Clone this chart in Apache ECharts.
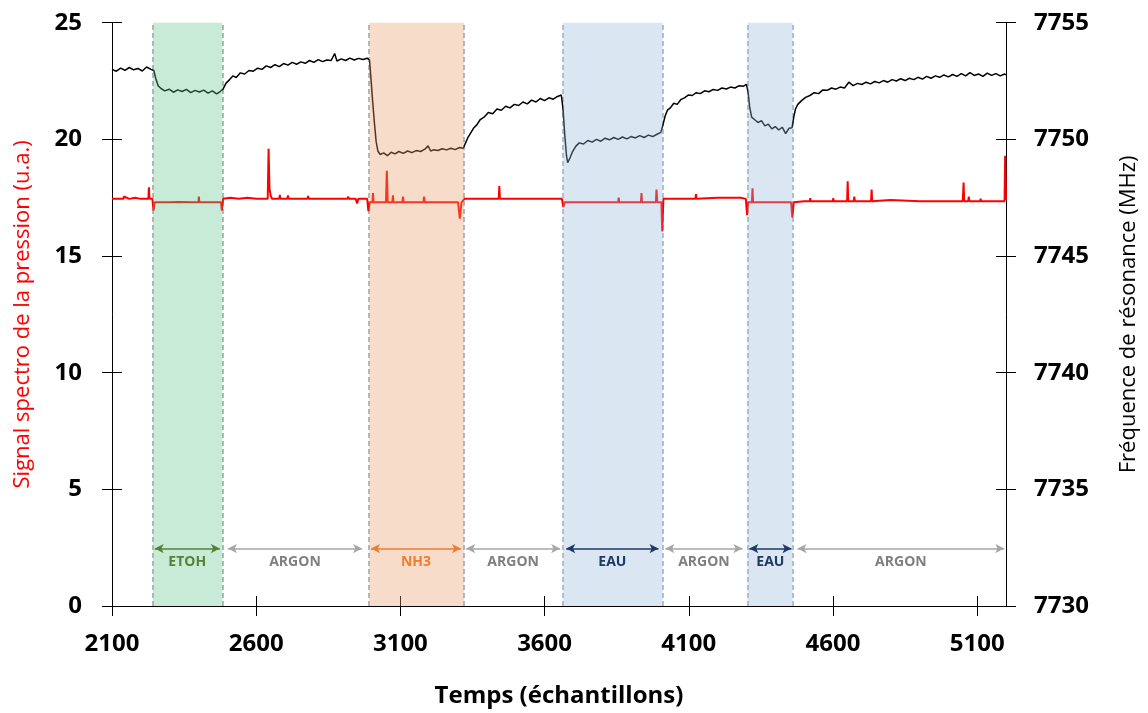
<!DOCTYPE html>
<html><head><meta charset="utf-8">
<script src="https://cdn.jsdelivr.net/npm/echarts@6/dist/echarts.min.js"></script>
<style>html,body{margin:0;padding:0;background:#fff}#c{width:1148px;height:713px}</style>
</head><body><div id="c"></div>
<script>
// ---- DATA ----
const freqT = [2100,2115,2130,2145,2160,2175,2190,2205,2220,2235,2245,2252,2260,2270,2283,2298,2313,2328,2343,2358,2373,2388,2403,2418,2433,2448,2463,2475,2485,2495,2507,2519,2531,2545,2560,2575,2590,2605,2620,2635,2650,2665,2680,2695,2710,2725,2740,2755,2770,2785,2800,2815,2830,2845,2860,2872,2880,2895,2910,2925,2940,2955,2970,2985,2993,2998,3004,3010,3016,3022,3030,3042,3055,3068,3081,3095,3110,3125,3140,3155,3170,3185,3196,3205,3215,3230,3245,3260,3275,3290,3305,3318,3326,3335,3345,3355,3365,3377,3390,3405,3420,3435,3450,3465,3480,3495,3510,3525,3540,3555,3570,3585,3600,3615,3630,3645,3658,3664,3670,3676,3680,3688,3696,3708,3720,3735,3750,3765,3780,3795,3810,3825,3840,3855,3870,3885,3900,3915,3930,3945,3960,3975,3990,4003,4010,4018,4026,4036,4048,4060,4072,4085,4098,4112,4126,4140,4155,4170,4185,4200,4215,4230,4245,4260,4275,4290,4300,4306,4311,4318,4328,4340,4352,4364,4376,4388,4400,4412,4424,4436,4448,4458,4464,4470,4478,4490,4505,4520,4535,4550,4565,4580,4595,4610,4625,4640,4655,4670,4685,4700,4715,4730,4745,4760,4775,4790,4805,4820,4835,4850,4865,4880,4895,4910,4925,4940,4955,4970,4985,5000,5015,5030,5045,5060,5075,5090,5105,5120,5135,5150,5165,5180,5195,5200];
const freqV = [7753.00,7752.92,7753.05,7752.96,7753.08,7752.98,7753.04,7752.93,7753.10,7753.00,7752.95,7752.60,7752.30,7752.18,7752.08,7752.15,7752.02,7752.12,7752.05,7752.14,7752.00,7752.10,7752.03,7752.11,7751.98,7752.08,7751.95,7752.05,7752.15,7752.40,7752.55,7752.72,7752.65,7752.85,7752.80,7752.95,7752.92,7753.05,7753.00,7753.15,7753.08,7753.20,7753.12,7753.25,7753.18,7753.30,7753.22,7753.32,7753.26,7753.38,7753.30,7753.42,7753.33,7753.40,7753.38,7753.68,7753.36,7753.45,7753.38,7753.48,7753.40,7753.47,7753.42,7753.48,7753.40,7752.60,7751.60,7750.70,7749.90,7749.50,7749.35,7749.42,7749.30,7749.45,7749.38,7749.48,7749.40,7749.50,7749.43,7749.52,7749.48,7749.58,7749.72,7749.50,7749.55,7749.52,7749.60,7749.55,7749.62,7749.56,7749.65,7749.62,7749.85,7750.10,7750.30,7750.50,7750.62,7750.85,7750.95,7751.15,7751.10,7751.30,7751.25,7751.42,7751.35,7751.50,7751.45,7751.60,7751.52,7751.68,7751.60,7751.75,7751.66,7751.78,7751.72,7751.84,7751.90,7751.30,7750.20,7749.30,7749.00,7749.20,7749.45,7749.70,7749.85,7749.80,7749.95,7749.88,7750.00,7749.92,7750.05,7749.98,7750.08,7750.00,7750.10,7750.02,7750.12,7750.06,7750.16,7750.08,7750.18,7750.12,7750.22,7750.30,7750.60,7751.00,7751.25,7751.35,7751.55,7751.50,7751.70,7751.78,7751.90,7751.88,7752.00,7751.96,7752.08,7752.04,7752.14,7752.10,7752.20,7752.16,7752.24,7752.20,7752.30,7752.28,7752.36,7752.00,7751.40,7750.95,7750.85,7750.72,7750.80,7750.58,7750.65,7750.45,7750.55,7750.40,7750.52,7750.25,7750.48,7750.50,7750.95,7751.30,7751.50,7751.65,7751.80,7751.88,7752.00,7751.96,7752.12,7752.10,7752.20,7752.15,7752.24,7752.20,7752.45,7752.30,7752.40,7752.35,7752.45,7752.38,7752.48,7752.42,7752.52,7752.45,7752.56,7752.50,7752.60,7752.52,7752.62,7752.56,7752.66,7752.58,7752.70,7752.62,7752.72,7752.66,7752.76,7752.68,7752.78,7752.70,7752.82,7752.72,7752.86,7752.74,7752.80,7752.70,7752.84,7752.74,7752.82,7752.72,7752.80,7752.76];
const presT = [2100,2140,2141,2160,2180,2181,2200,2226,2228,2230,2240,2244,2248,2300,2330,2380,2400,2401,2403,2440,2478,2481,2485,2510,2540,2570,2600,2640,2643,2646,2650,2655,2680,2682,2684,2708,2710,2712,2778,2780,2782,2850,2917,2919,2921,2945,2950,2954,2985,2989,2994,3003,3005,3007,3050,3053,3056,3072,3074,3076,3107,3109,3111,3180,3182,3184,3230,3300,3306,3312,3322,3400,3441,3443,3445,3550,3600,3660,3665,3670,3760,3855,3857,3859,3934,3936,3938,3986,3988,3991,4005,4008,4012,4100,4123,4125,4127,4200,4280,4298,4302,4306,4319,4321,4323,4400,4455,4459,4464,4500,4520,4521,4523,4560,4600,4601,4603,4649,4651,4653,4672,4674,4676,4732,4734,4736,4800,4900,5050,5053,5055,5069,5071,5073,5110,5112,5114,5195,5197,5200];
const presV = [17.45,17.45,17.55,17.45,17.50,17.45,17.45,17.45,17.95,17.45,17.45,16.95,17.30,17.30,17.32,17.30,17.30,17.55,17.30,17.30,17.30,16.95,17.45,17.50,17.45,17.50,17.45,17.45,19.60,17.90,17.60,17.45,17.45,17.62,17.45,17.45,17.60,17.45,17.45,17.58,17.45,17.45,17.45,17.55,17.45,17.45,17.25,17.45,17.45,16.92,17.30,17.30,17.70,17.30,17.30,18.65,17.30,17.30,17.60,17.30,17.30,17.55,17.30,17.30,17.55,17.30,17.30,17.30,16.60,17.30,17.45,17.45,17.45,18.00,17.45,17.45,17.45,17.45,17.10,17.30,17.30,17.30,17.50,17.30,17.30,17.70,17.30,17.30,17.85,17.30,17.30,16.05,17.45,17.45,17.45,17.65,17.45,17.50,17.50,17.45,16.75,17.30,17.30,17.90,17.30,17.30,17.30,16.65,17.30,17.35,17.35,17.48,17.35,17.35,17.35,17.48,17.35,17.35,18.20,17.35,17.35,17.55,17.35,17.35,17.85,17.35,17.40,17.35,17.35,18.15,17.35,17.35,17.55,17.35,17.35,17.45,17.35,17.35,19.30,17.40];
const regionNames = ['ETOH','NH3','EAU','EAU'];
const regionStart = [2242,2992,3664,4304];
const regionEnd = [2483,3321,4009,4460];
const arrowLabels = ['ETOH','ARGON','NH3','ARGON','EAU','ARGON','EAU','ARGON'];
const arrowStart = [2248,2502,2998,3328,3675,4019,4310,4477];
const arrowEnd = [2474,2967,3310,3654,3995,4286,4456,5194];

// ---- STYLE ----
const FONT = "'Open Sans', 'Liberation Sans', sans-serif";
const areaColor = {ETOH:'rgba(95,198,138,0.35)', NH3:'rgba(235,155,104,0.35)', EAU:'rgba(149,184,218,0.35)'};
const dashColor = {ETOH:'#a6a6a6', NH3:'#a6a6a6', EAU:'#9fb2c6'};
const arrowColor = {ETOH:'#548235', ARGON:'#a6a6a6', NH3:'#ed7d31', EAU:'#1f3864'};
const labelColor = {ETOH:'#548235', ARGON:'#7f7f7f', NH3:'#ed7d31', EAU:'#1f3864'};
const ARROW_Y = 2.46;

const plain = v => String(v);
const tickLabel = {fontSize:24, fontWeight:'bold', color:'#000', fontFamily:FONT, formatter:plain};
const axLine = {show:true, lineStyle:{color:'#000', width:1}};
const tk = (inside)=>({show:true, inside:inside, length:10, lineStyle:{color:'#000', width:1}});
const xBase = {type:'value', min:2100, max:5200, interval:500, splitLine:{show:false}};
const yL = {type:'value', min:0, max:25, interval:5, position:'left', splitLine:{show:false}};
const yR = {type:'value', min:7730, max:7755, interval:5, position:'right', splitLine:{show:false}};

const chart = echarts.init(document.getElementById('c'), null, {renderer:'canvas'});
chart.setOption({
  animation:false,
  backgroundColor:'#fff',
  grid:{left:112, right:142, top:22.7, bottom:105.5, containLabel:false},
  xAxis:[
    Object.assign({}, xBase, {position:'bottom', axisLine:axLine, axisTick:tk(false),
      axisLabel:Object.assign({margin:26, showMaxLabel:false}, tickLabel),
      name:'Temps (échantillons)', nameLocation:'middle', nameGap:78,
      nameTextStyle:{fontSize:24, fontWeight:'bold', color:'#000', fontFamily:FONT}}),
    Object.assign({}, xBase, {position:'bottom', axisLine:{show:false}, axisTick:tk(true), axisLabel:{show:false}})
  ],
  yAxis:[
    Object.assign({}, yL, {axisLine:axLine, axisTick:tk(false), axisLabel:Object.assign({margin:30}, tickLabel),
      name:'Signal spectro de la pression (u.a.)', nameLocation:'middle', nameGap:78, nameRotate:90,
      nameTextStyle:{fontSize:22, color:'#ff0000', fontFamily:FONT}}),
    Object.assign({}, yL, {axisLine:{show:false}, axisTick:tk(true), axisLabel:{show:false}}),
    Object.assign({}, yR, {axisLine:axLine, axisTick:tk(false), axisLabel:Object.assign({margin:28}, tickLabel),
      name:'Fréquence de résonance (MHz)', nameLocation:'middle', nameGap:112, nameRotate:90,
      nameTextStyle:{fontSize:22, color:'#000', fontFamily:FONT}}),
    Object.assign({}, yR, {axisLine:{show:false}, axisTick:tk(true), axisLabel:{show:false}})
  ],
  series:[
    {type:'line', xAxisIndex:0, yAxisIndex:1, data:[], silent:true, z:1,
      markLine:{silent:true, symbol:'none', z:1, label:{show:false},
        lineStyle:{type:[5,3], width:1.6},
        data:[].concat(...regionStart.map((s,i)=>[
          {xAxis:s, lineStyle:{color:dashColor[regionNames[i]]}},
          {xAxis:regionEnd[i], lineStyle:{color:dashColor[regionNames[i]]}}]))}},
    {type:'line', name:'pression', xAxisIndex:0, yAxisIndex:0, showSymbol:false, z:3,
      data:presT.map((t,i)=>[t,presV[i]]), lineStyle:{color:'#ff0000', width:2}, itemStyle:{color:'#ff0000'}},
    {type:'line', name:'freq', xAxisIndex:0, yAxisIndex:2, showSymbol:false, z:3,
      data:freqT.map((t,i)=>[t,freqV[i]]), lineStyle:{color:'#000', width:1.5}, itemStyle:{color:'#000'}},
    {type:'line', xAxisIndex:0, yAxisIndex:0, data:[], silent:true, z:10,
      markArea:{silent:true, z:10,
        data:regionStart.map((s,i)=>[{xAxis:s, itemStyle:{color:areaColor[regionNames[i]]}}, {xAxis:regionEnd[i]}])}},
    {type:'line', xAxisIndex:0, yAxisIndex:0, data:[], silent:true, z:12,
      markLine:{silent:true, z:12, symbol:['arrow','arrow'], symbolSize:[7,9], precision:4,
        label:{show:true, position:'insideMiddleBottom', distance:6, formatter:'{b}', fontSize:14, fontWeight:'bold', fontFamily:FONT},
        data:arrowLabels.map((lab,i)=>[
          {coord:[arrowStart[i], ARROW_Y], name:lab, lineStyle:{color:arrowColor[lab], width:1.5, type:'solid'},
           itemStyle:{color:arrowColor[lab]}, label:{color:labelColor[lab]}},
          {coord:[arrowEnd[i], ARROW_Y]}])}}
  ]
});
</script></body></html>
